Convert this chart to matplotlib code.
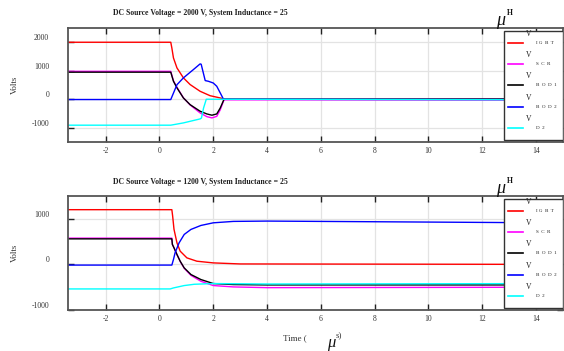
import matplotlib
matplotlib.use('Agg')
import matplotlib.pyplot as plt
from matplotlib.lines import Line2D
from matplotlib.patches import Rectangle
from matplotlib.transforms import ScaledTranslation

plt.rcParams['font.family'] = ['Liberation Serif', 'DejaVu Serif']
plt.rcParams['axes.unicode_minus'] = False

# --- 2000 V panel ---
t_igbt_top = [-3.4, 0.42, 0.46, 0.52, 0.65, 0.89, 1.14, 1.51, 1.88, 2.26, 2.44, 15]
v_igbt_top = [2000, 2000, 1800, 1450, 1100, 750, 515, 280, 125, 45, 0, -10]
t_sw_top = [-3.4, 0.42, 0.52, 0.65, 0.89, 1.14, 1.51, 1.76, 1.95, 2.13, 2.26, 2.4, 15]
v_scr_top = [980, 980, 650, 420, 50, -200, -480, -610, -655, -600, -370, -20, -30]
v_bod1_top = [950, 950, 630, 400, 45, -190, -420, -515, -560, -515, -305, 0, 10]
t_bod2_top = [-3.4, 0.42, 0.65, 0.89, 1.26, 1.51, 1.55, 1.70, 1.82, 2.0, 2.13, 2.26, 2.38, 15]
v_bod2_top = [-10, -10, 510, 750, 1040, 1240, 1230, 655, 630, 570, 455, 220, 0, -10]
t_d2_top = [-3.4, 0.42, 0.89, 1.51, 1.56, 1.64, 1.74, 15]
v_d2_top = [-910, -910, -830, -690, -660, -305, 0, -20]

# --- 1200 V panel ---
t_igbt_bot = [-3.4, 0.46, 0.49, 0.54, 0.65, 0.77, 1.02, 1.39, 2.0, 3.0, 15]
v_igbt_bot = [1200, 1200, 1060, 770, 473, 290, 143, 70, 33, 10, 0]
t_sw_bot = [-3.4, 0.46, 0.48, 0.54, 0.65, 0.77, 0.92, 1.17, 1.54, 2.0, 2.75, 4.0, 15]
v_scr_bot = [576, 576, 440, 365, 215, 65, -85, -240, -370, -464, -494, -510, -500]
v_bod1_bot = [560, 560, 437, 363, 218, 70, -77, -222, -332, -420, -442, -450, -450]
t_bod2_bot = [-3.4, 0.46, 0.52, 0.58, 0.73, 0.92, 1.17, 1.54, 2.0, 2.75, 4.0, 15]
v_bod2_bot = [-15, -15, 107, 253, 473, 657, 767, 854, 912, 943, 950, 910]
t_d2_bot = [-3.4, 0.4, 0.52, 0.92, 1.29, 2.0, 4.0, 15]
v_d2_bot = [-538, -538, -516, -464, -436, -420, -430, -420]

series_names = ['I G  B  T', 'S  C  R', 'B  O  D  1', 'B  O  D  2', 'D  2']
series_colors = ['#ff0000', '#ff00ff', '#000000', '#0000ff', '#00ffff']
x_ticks = [-2, 0, 2, 4, 6, 8, 10, 12, 14]
voltages = [2000, 1200]


def draw_legend(ax):
    ax.add_patch(Rectangle((0.881, 0.018), 0.119, 0.956, transform=ax.transAxes,
                           facecolor='white', edgecolor='#333333', lw=1.0,
                           zorder=5))
    ys = [0.868, 0.685, 0.497, 0.305, 0.121]
    for y, name, c in zip(ys, series_names, series_colors):
        ax.add_line(Line2D([0.889, 0.919], [y, y], transform=ax.transAxes,
                           color=c, lw=1.2, zorder=6))
        ax.text(0.926, y + 0.08, 'V', transform=ax.transAxes, fontsize=5.5,
                va='center', ha='left', zorder=6, color='#222222')
        ax.text(0.945, y, name, transform=ax.transAxes, fontsize=3.6,
                va='center', ha='left', zorder=6, color='#222222')


def style_axes(ax, ylim, yticks):
    ax.set_xlim(-3.4, 15)
    ax.set_ylim(*ylim)
    ax.set_xticks(x_ticks)
    ax.set_yticks(yticks)
    ax.grid(True, color='#e3e3e3', lw=0.9)
    ax.set_axisbelow(True)
    for s in ax.spines.values():
        s.set_color('#555555')
        s.set_linewidth(1.3)
    ax.tick_params(direction='in', top=True, right=True, length=4.5,
                   width=1.0, color='#222222', labelsize=5.5,
                   labelcolor='#333333')
    ax.tick_params(axis='y', pad=13.5)
    ax.tick_params(axis='x', pad=3.5)
    ax.set_ylabel('Volts', fontsize=6.5, color='#333333', labelpad=9)
    shift = ScaledTranslation(0, 0.05, ax.figure.dpi_scale_trans)
    for tk in ax.yaxis.get_major_ticks():
        tk.label1.set_transform(tk.label1.get_transform() + shift)


fig = plt.figure(figsize=(5.64, 3.51), dpi=100)
ax1 = fig.add_axes([68 / 564, 1 - 142 / 351, 495 / 564, 114 / 351])
ax2 = fig.add_axes([68 / 564, 1 - 310 / 351, 495 / 564, 114 / 351])

top = [(t_igbt_top, v_igbt_top), (t_sw_top, v_scr_top), (t_sw_top, v_bod1_top),
       (t_bod2_top, v_bod2_top), (t_d2_top, v_d2_top)]
bot = [(t_igbt_bot, v_igbt_bot), (t_sw_bot, v_scr_bot), (t_sw_bot, v_bod1_bot),
       (t_bod2_bot, v_bod2_bot), (t_d2_bot, v_d2_bot)]

for ax, data in ((ax1, top), (ax2, bot)):
    for (t, v), c in zip(data, series_colors):
        ax.plot(t, v, color=c, lw=1.0)

style_axes(ax1, (-1500, 2500), [-1000, 0, 1000, 2000])
style_axes(ax2, (-1000, 1500), [-1000, 0, 1000])
draw_legend(ax1)
draw_legend(ax2)

# titles (split the way the exported figure shows them)
for volt, ty, my, hy in ((voltages[0], 13, 25, 13), (voltages[1], 182, 193, 181)):
    fig.text(113 / 564, 1 - ty / 351,
             f'DC Source Voltage = {volt} V, System Inductance = 25',
             fontsize=5.6, fontweight='bold', va='center', ha='left',
             color='#222222')
    fig.text(496 / 564, 1 - my / 351, 'μ', fontsize=13, style='italic',
             va='baseline', ha='left', color='#111111')
    fig.text(507 / 564, 1 - hy / 351, 'H', fontsize=5.5, fontweight='bold',
             va='center', ha='left', color='#111111')

fig.text(283 / 564, 1 - 338 / 351, 'Time (', fontsize=6.5, va='center',
         ha='left', color='#333333')
fig.text(327 / 564, 1 - 347 / 351, 'μ', fontsize=12, style='italic',
         va='baseline', ha='left', color='#111111')
fig.text(336 / 564, 1 - 336 / 351, 's)', fontsize=6.5, va='center',
         ha='left', color='#333333')

fig.savefig('out.png', dpi=100)
